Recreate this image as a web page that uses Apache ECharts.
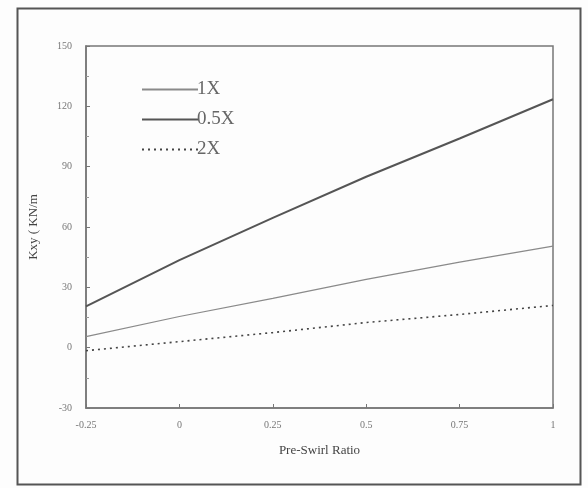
<!DOCTYPE html>
<html>
<head>
<meta charset="utf-8">
<script src="https://cdn.jsdelivr.net/npm/echarts@6/dist/echarts.min.js"></script>
<style>html,body{margin:0;padding:0;background:#fff;}#c{width:588px;height:488px;}</style>
</head>
<body>
<div id="c"></div>
<script>
var xValues = [-0.25, 0, 0.25, 0.5, 0.75, 1];
var s1X = [5.5, 15.5, 24.5, 34, 42.5, 50.5];
var s05X = [20.5, 43.5, 64.5, 85, 104, 123.5];
var s2X = [-1.5, 3, 7.5, 12.5, 16.5, 21];
var seriesNames = ['1X', '0.5X', '2X'];

function pairs(v) { return xValues.map(function (x, i) { return [x, v[i]]; }); }

var chart = echarts.init(document.getElementById('c'));
var serif = '"Liberation Serif", "DejaVu Serif", serif';
chart.setOption({
  backgroundColor: '#fdfdfd',
  animation: false,
  graphic: [{
    type: 'rect', left: 15, top: 6,
    shape: { width: 563, height: 476 },
    style: { fill: 'none', stroke: '#555', lineWidth: 2 }
  }],
  grid: { left: 86, right: 35, top: 46, bottom: 80, show: true, borderColor: '#777', borderWidth: 1.5 },
  legend: {
    orient: 'vertical', left: 136, top: 75, itemGap: 11,
    itemWidth: 56, itemHeight: 14,
    itemStyle: { opacity: 0 },
    textStyle: { fontFamily: serif, fontSize: 19, color: '#666', padding: [0, 0, 0, -6] },
    data: seriesNames
  },
  xAxis: {
    type: 'value', min: -0.25, max: 1, interval: 0.25,
    name: 'Pre-Swirl Ratio', nameLocation: 'middle', nameGap: 36,
    nameTextStyle: { fontFamily: serif, fontSize: 13, color: '#444' },
    axisLine: { onZero: false, lineStyle: { color: '#777', width: 1.5 } },
    axisTick: { inside: true, length: 4, lineStyle: { color: '#777' } },
    splitLine: { show: false },
    axisLabel: { fontFamily: serif, fontSize: 10, color: '#777', margin: 12,
      formatter: function (v) { return String(v); } }
  },
  yAxis: {
    type: 'value', min: -30, max: 150, interval: 30,
    name: 'Kxy ( KN/m', nameLocation: 'middle', nameGap: 46,
    nameTextStyle: { fontFamily: serif, fontSize: 13, color: '#444' },
    axisLine: { show: true, onZero: false, lineStyle: { color: '#777', width: 1.5 } },
    axisTick: { show: true, inside: true, length: 4, lineStyle: { color: '#777' } },
    minorTick: { show: true, splitNumber: 2, length: 3, lineStyle: { color: '#999' } },
    splitLine: { show: false },
    axisLabel: { fontFamily: serif, fontSize: 10, color: '#777', margin: 14 }
  },
  series: [
    { name: '1X', type: 'line', data: pairs(s1X), symbol: 'none',
      lineStyle: { color: '#8a8a8a', width: 1.2 }, itemStyle: { color: '#8a8a8a' } },
    { name: '0.5X', type: 'line', data: pairs(s05X), symbol: 'none',
      lineStyle: { color: '#555', width: 2 }, itemStyle: { color: '#555' } },
    { name: '2X', type: 'line', data: pairs(s2X), symbol: 'none',
      lineStyle: { color: '#444', width: 1.6, type: [2, 4] }, itemStyle: { color: '#444' } }
  ]
});
</script>
</body>
</html>
